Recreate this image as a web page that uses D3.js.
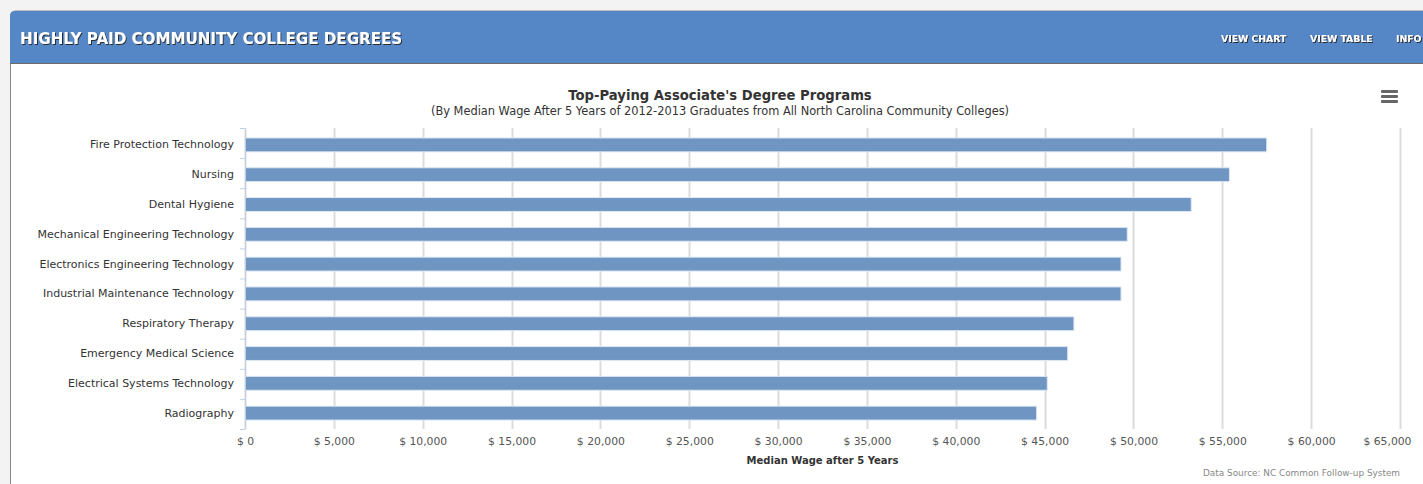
<!DOCTYPE html>
<html><head><meta charset="utf-8">
<script src="https://cdn.jsdelivr.net/npm/d3@7"></script>
<style>
html,body{margin:0;padding:0;background:#f3f3f3;overflow:hidden}
svg{display:block}
</style></head>
<body>
<svg id="c" width="1423" height="484"></svg>
<script>
const categories = ["Fire Protection Technology","Nursing","Dental Hygiene","Mechanical Engineering Technology","Electronics Engineering Technology","Industrial Maintenance Technology","Respiratory Therapy","Emergency Medical Science","Electrical Systems Technology","Radiography"];
const wages = [57500, 55400, 53250, 49650, 49300, 49300, 46650, 46300, 45150, 44550];
const tickValues = [0,5000,10000,15000,20000,25000,30000,35000,40000,45000,50000,55000,60000,65000];
const headerTitle = "HIGHLY PAID COMMUNITY COLLEGE DEGREES";
const navItems = ["VIEW CHART","VIEW TABLE","INFO"];
const chartTitle = "Top-Paying Associate's Degree Programs";
const chartSubtitle = "(By Median Wage After 5 Years of 2012-2013 Graduates from All North Carolina Community Colleges)";
const axisTitle = "Median Wage after 5 Years";
const sourceText = "Data Source: NC Common Follow-up System";

const svg = d3.select("#c");
const font = "'DejaVu Sans', Verdana, sans-serif";

const defs = svg.append("defs");
const f = defs.append("filter").attr("id","sh").attr("x","-5%").attr("y","-20%").attr("width","110%").attr("height","160%");
f.append("feDropShadow").attr("dx",1).attr("dy",1).attr("stdDeviation",0.4).attr("flood-color","#222").attr("flood-opacity",0.9);

// panel
svg.append("rect").attr("x",10.5).attr("y",11).attr("width",1430).attr("height",490).attr("rx",5)
  .attr("fill","#fff").attr("stroke","#8a8a8a");
// header
svg.append("path").attr("d","M10,63 L10,16 Q10,11 15,11 L1423,11 L1423,63 Z").attr("fill","#5586c6");
svg.append("line").attr("x1",10).attr("x2",1423).attr("y1",63.5).attr("y2",63.5).attr("stroke","#6b6b6b");
svg.append("text").attr("x",20).attr("y",44).attr("fill","#fff").attr("font-family","Tahoma, 'DejaVu Sans', sans-serif")
  .attr("font-weight","bold").attr("font-size",15.1).attr("filter","url(#sh)").text(headerTitle);
const navX = [1221,1310,1396];
navItems.forEach((t,i)=>{
  svg.append("text").attr("x",navX[i]).attr("y",42).attr("fill","#fff").attr("font-family",font)
   .attr("font-weight","bold").attr("font-size",9.3).attr("filter","url(#sh)").text(t);
});

// chart
const m = {left:245, right:1400, top:129, bottom:429};
const x = d3.scaleLinear().domain([0,65000]).range([m.left,m.right]);
const y = d3.scaleBand().domain(categories).range([m.top,m.bottom]).paddingInner(0.5333).paddingOuter(0.3);

svg.append("text").attr("x",720).attr("y",100).attr("text-anchor","middle").attr("font-family",font)
  .attr("font-weight","bold").attr("font-size",13.2).attr("fill","#333").text(chartTitle);
svg.append("text").attr("x",720).attr("y",115).attr("text-anchor","middle").attr("font-family",font)
  .attr("font-size",11.4).attr("fill","#333").text(chartSubtitle);

// menu icon
[0,5,10].forEach(d=>svg.append("rect").attr("x",1381).attr("y",90+d).attr("width",17).attr("height",3).attr("rx",1).attr("fill","#666"));

// gridlines
svg.append("g").selectAll("line").data(tickValues).join("line")
  .attr("x1",d=>Math.round(x(d))+0.5).attr("x2",d=>Math.round(x(d))+0.5).attr("y1",128).attr("y2",m.bottom)
  .attr("stroke","#dcdcdc").attr("stroke-width",2);

// bars
svg.append("g").selectAll("rect").data(wages).join("rect")
  .attr("x",x(0)).attr("y",(d,i)=>y(categories[i])).attr("width",d=>x(d)-x(0)).attr("height",y.bandwidth())
  .attr("fill","#6f95c3").attr("stroke","#dfe8f3").attr("stroke-width",1);

// y axis (categories)
const ya = d3.axisLeft(y).tickSize(0).tickPadding(11);
const yg = svg.append("g").attr("transform",`translate(${m.left},0)`).call(ya);
yg.select(".domain").attr("stroke","#c0d0e0").attr("stroke-width",1);
yg.selectAll("text").attr("font-family",font).attr("font-size",11).attr("fill","#333");
// category boundary ticks
const bounds = d3.range(categories.length+1).map(i=>128 + i*(m.bottom-128)/categories.length);
svg.append("g").selectAll("line").data(bounds).join("line")
  .attr("x1",m.left-5).attr("x2",m.left).attr("y1",d=>d+0.5).attr("y2",d=>d+0.5).attr("stroke","#c0d0e0");

// x axis (values)
const xa = d3.axisBottom(x).tickValues(tickValues).tickSize(0).tickPadding(8)
  .tickFormat(d=>"$ "+d3.format(",")(d));
const xg = svg.append("g").attr("transform",`translate(0,${m.bottom})`).call(xa);
xg.select(".domain").remove();
xg.selectAll("text").attr("font-family",font).attr("font-size",10.8).attr("fill","#555");
// keep last label inside the plot area (as the original does)
xg.selectAll(".tick").filter(d=>d===65000).select("text").attr("text-anchor","end").attr("x",11);

svg.append("text").attr("x",(m.left+m.right)/2).attr("y",464).attr("text-anchor","middle").attr("font-family",font)
  .attr("font-weight","bold").attr("font-size",10).attr("fill","#333").text(axisTitle);
svg.append("text").attr("x",1400).attr("y",476).attr("text-anchor","end").attr("font-family",font)
  .attr("font-size",8.9).attr("fill","#888").text(sourceText);
</script>
</body></html>
